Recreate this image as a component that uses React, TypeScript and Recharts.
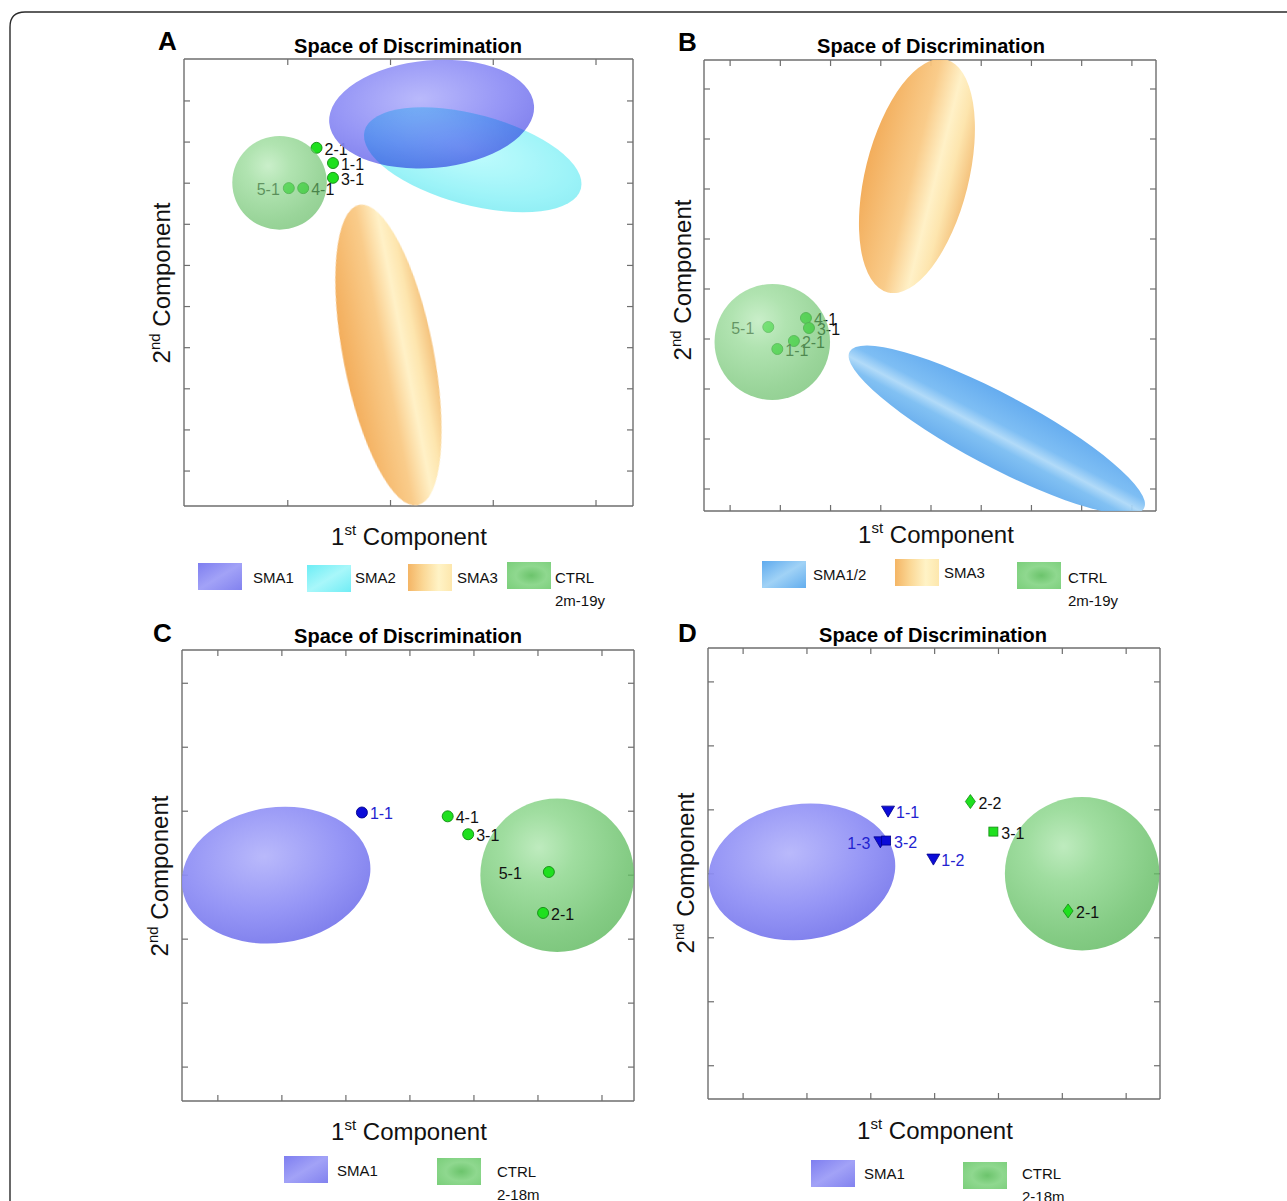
import React from "react";
import { ScatterChart, Scatter, XAxis, YAxis } from "recharts";

const FONT = '"Liberation Sans", Arial, Helvetica, sans-serif';

// ---------- panel A (SMA1 / SMA2 / SMA3 / CTRL 2m-19y) ----------
const xTicksA = [1, 2, 3, 4];
const yTicksA = [1, 2, 3, 4, 5, 6, 7, 8, 9, 10];
const xDomainA: [number, number] = [-0.01, 4.36];
const yDomainA: [number, number] = [0.15, 11.02];
const groupsA = [
  { name: "SMA1", x: 2.4, y: 9.68, rx: 1.0, ry: 1.31, rot: -5 },
  { name: "SMA2", x: 2.8, y: 8.57, rx: 1.09, ry: 1.1, rot: 15 },
  { name: "SMA3", x: 1.98, y: 3.82, rx: 0.44, ry: 3.72, rot: -11 },
  { name: "CTRL", x: 0.92, y: 8.01, rx: 0.46, ry: 1.14, rot: 0 },
];
const pointsA = [
  { label: "2-1", x: 1.28, y: 8.86, group: "CTRL" },
  { label: "1-1", x: 1.44, y: 8.49, group: "CTRL" },
  { label: "3-1", x: 1.44, y: 8.13, group: "CTRL" },
  { label: "4-1", x: 1.15, y: 7.88, group: "CTRL" },
  { label: "5-1", x: 1.01, y: 7.88, group: "CTRL" },
];

// ---------- panel B (SMA1/2 / SMA3 / CTRL 2m-19y) ----------
const xTicksB = [1, 2, 3, 4, 5, 6, 7, 8, 9];
const yTicksB = [1, 2, 3, 4, 5, 6, 7, 8, 9];
const xDomainB: [number, number] = [0.48, 9.48];
const yDomainB: [number, number] = [0.56, 9.58];
const groupsB = [
  { name: "SMA3", x: 4.72, y: 7.26, rx: 1.03, ry: 2.4, rot: 14 },
  { name: "SMA1/2", x: 6.31, y: 2.18, rx: 3.32, ry: 0.72, rot: 28 },
  { name: "CTRL", x: 1.84, y: 3.94, rx: 1.15, ry: 1.16, rot: 0 },
];
const pointsB = [
  { label: "5-1", x: 1.76, y: 4.24, group: "CTRL" },
  { label: "4-1", x: 2.51, y: 4.42, group: "CTRL" },
  { label: "3-1", x: 2.57, y: 4.22, group: "CTRL" },
  { label: "2-1", x: 2.27, y: 3.96, group: "CTRL" },
  { label: "1-1", x: 1.94, y: 3.8, group: "CTRL" },
];

// ---------- panel C (SMA1 / CTRL 2-18m) ----------
const xTicksC = [1, 2, 3, 4, 5, 6, 7];
const yTicksC = [1, 2, 3, 4, 5, 6, 7];
const xDomainC: [number, number] = [0.44, 7.5];
const yDomainC: [number, number] = [0.47, 7.52];
const groupsC = [
  { name: "SMA1", x: 1.91, y: 4.0, rx: 1.48, ry: 1.06, rot: -8 },
  { name: "CTRL", x: 6.3, y: 4.0, rx: 1.2, ry: 1.2, rot: 0 },
];
const pointsC = [
  { label: "1-1", x: 3.25, y: 4.98, group: "SMA1" },
  { label: "4-1", x: 4.59, y: 4.92, group: "CTRL" },
  { label: "3-1", x: 4.91, y: 4.64, group: "CTRL" },
  { label: "5-1", x: 6.17, y: 4.05, group: "CTRL" },
  { label: "2-1", x: 6.08, y: 3.41, group: "CTRL" },
];

// ---------- panel D (SMA1 / CTRL 2-18m) ----------
const xTicksD = [1, 2, 3, 4, 5, 6, 7];
const yTicksD = [1, 2, 3, 4, 5, 6, 7];
const xDomainD: [number, number] = [0.45, 7.53];
const yDomainD: [number, number] = [0.48, 7.53];
const groupsD = [
  { name: "SMA1", x: 1.92, y: 4.03, rx: 1.47, ry: 1.06, rot: -8 },
  { name: "CTRL", x: 6.31, y: 4.0, rx: 1.21, ry: 1.2, rot: 0 },
];
const pointsD = [
  { label: "1-1", x: 3.27, y: 4.98, group: "SMA1" },
  { label: "1-3", x: 3.15, y: 4.5, group: "SMA1" },
  { label: "3-2", x: 3.24, y: 4.52, group: "SMA1" },
  { label: "1-2", x: 3.98, y: 4.23, group: "SMA1" },
  { label: "2-2", x: 4.56, y: 5.13, group: "CTRL" },
  { label: "3-1", x: 4.92, y: 4.66, group: "CTRL" },
  { label: "2-1", x: 6.09, y: 3.42, group: "CTRL" },
];

const legendA = ["SMA1", "SMA2", "SMA3", "CTRL"];
const legendB = ["SMA1/2", "SMA3", "CTRL"];
const legendC = ["SMA1", "CTRL"];
const legendD = ["SMA1", "CTRL"];
const ageAB = "2m-19y";
const ageCD = "2-18m";

// marker by first digit of the label in panel D
const markerD: Record<string, string> = { "1": "triDown", "2": "diamond", "3": "square" };

const safe = (s: string) => s.replace(/[^a-zA-Z0-9]/g, "");

function ellipseGradient(kind: string, id: string) {
  switch (kind) {
    case "SMA1":
      return (
        <radialGradient id={id} cx="0.45" cy="0.35" r="0.75">
          <stop offset="0" stopColor="#b4b4fb" />
          <stop offset="0.55" stopColor="#8e8ef5" />
          <stop offset="1" stopColor="#6f6fe8" />
        </radialGradient>
      );
    case "SMA2":
      return (
        <radialGradient id={id} cx="0.45" cy="0.4" r="0.75">
          <stop offset="0" stopColor="#aafbfd" />
          <stop offset="0.6" stopColor="#7af0f6" />
          <stop offset="1" stopColor="#58e3ee" />
        </radialGradient>
      );
    case "SMA3":
      return (
        <linearGradient id={id} x1="0" y1="0" x2="1" y2="0">
          <stop offset="0" stopColor="#f2a953" />
          <stop offset="0.45" stopColor="#f9c984" />
          <stop offset="0.68" stopColor="#fff0c4" />
          <stop offset="0.82" stopColor="#fde4aa" />
          <stop offset="1" stopColor="#f4bf76" />
        </linearGradient>
      );
    case "SMA1/2":
      return (
        <linearGradient id={id} x1="0" y1="0" x2="0" y2="1">
          <stop offset="0" stopColor="#5aa6ee" />
          <stop offset="0.4" stopColor="#74b9f3" />
          <stop offset="0.56" stopColor="#acd8f8" />
          <stop offset="0.7" stopColor="#78bcf2" />
          <stop offset="1" stopColor="#5ea8ec" />
        </linearGradient>
      );
    default:
      return (
        <radialGradient id={id} cx="0.38" cy="0.32" r="0.78">
          <stop offset="0" stopColor="#aee6ae" />
          <stop offset="0.3" stopColor="#88d588" />
          <stop offset="0.75" stopColor="#66bf66" />
          <stop offset="1" stopColor="#58b558" />
        </radialGradient>
      );
  }
}

const OPACITY: Record<string, number> = { SMA1: 0.93, SMA2: 0.72, SMA3: 0.95, "SMA1/2": 0.93, CTRL: 0.8 };

const POINT_STYLE: Record<string, { fill: string; stroke: string; text: string }> = {
  CTRL: { fill: "#1fe01f", stroke: "#128a12", text: "#111111" },
  SMA1: { fill: "#0c0cd8", stroke: "#00008c", text: "#2323d0" },
};

type Box = { x: number; y: number; w: number; h: number };

type PanelProps = {
  uid: string;
  box: Box;
  xDomain: [number, number];
  yDomain: [number, number];
  xTicks: number[];
  yTicks: number[];
  groups: any[];
  points: any[];
  pointsUnder: boolean;
  leftLabels: string[];
  leftGap: number;
  markers?: Record<string, string>;
};

function Panel(props: PanelProps) {
  const { uid, box, xDomain, yDomain, xTicks, yTicks, groups, points, pointsUnder, leftLabels, leftGap, markers } = props;
  const pad = 6;
  const kx = box.w / (xDomain[1] - xDomain[0]);
  const ky = box.h / (yDomain[1] - yDomain[0]);

  const ellipseShape = (p: any) => {
    const { cx, cy, payload } = p;
    const id = `${uid}-${safe(payload.name)}`;
    // ellipses drawn over the points are a bit more see-through
    const op = pointsUnder && payload.name === "CTRL" ? 0.66 : OPACITY[payload.name];
    return (
      <g>
        <defs>{ellipseGradient(payload.name, id)}</defs>
        <ellipse
          cx={cx}
          cy={cy}
          rx={payload.rx * kx}
          ry={payload.ry * ky}
          transform={`rotate(${payload.rot} ${cx} ${cy})`}
          fill={`url(#${id})`}
          opacity={op}
          style={payload.name === "SMA2" ? { mixBlendMode: "multiply" } : undefined}
        />
      </g>
    );
  };

  const pointShape = (p: any) => {
    const { cx, cy, payload } = p;
    const st = POINT_STYLE[payload.group];
    const kind = markers ? markers[payload.label.charAt(0)] : "circle";
    let mark;
    if (kind === "triDown") {
      mark = <path d={`M${cx - 6.5},${cy - 5} L${cx + 6.5},${cy - 5} L${cx},${cy + 6} Z`} fill={st.fill} stroke={st.stroke} strokeWidth={0.8} />;
    } else if (kind === "square") {
      mark = <rect x={cx - 4.5} y={cy - 4.5} width={9} height={9} fill={st.fill} stroke={st.stroke} strokeWidth={0.8} />;
    } else if (kind === "diamond") {
      mark = <path d={`M${cx},${cy - 7} L${cx + 5},${cy} L${cx},${cy + 7} L${cx - 5},${cy} Z`} fill={st.fill} stroke={st.stroke} strokeWidth={0.8} />;
    } else {
      mark = <circle cx={cx} cy={cy} r={5.5} fill={st.fill} stroke={st.stroke} strokeWidth={0.9} />;
    }
    const left = leftLabels.includes(payload.label);
    return (
      <g>
        {mark}
        <text
          x={left ? cx - leftGap : cx + 8}
          y={cy + 7}
          textAnchor={left ? "end" : "start"}
          fontSize={16}
          fontFamily={FONT}
          fill={st.text}
        >
          {payload.label}
        </text>
      </g>
    );
  };

  const axisCommon = {
    type: "number" as const,
    mirror: true,
    tickFormatter: () => "",
    tickSize: 6,
    stroke: "#6e6e6e",
    allowDataOverflow: true,
    interval: 0 as const,
    axisLine: { strokeWidth: 1.4 },
    tickLine: { strokeWidth: 1.2 },
  };

  const ellipses = (
    <Scatter key="ell" data={groups} xAxisId="b" yAxisId="l" shape={ellipseShape} isAnimationActive={false} />
  );
  const marks = (
    <Scatter key="pts" data={points} xAxisId="b" yAxisId="l" shape={pointShape} isAnimationActive={false} />
  );

  return (
    <div style={{ position: "absolute", left: box.x - pad, top: box.y - pad }}>
      <ScatterChart
        width={box.w + 2 * pad}
        height={box.h + 2 * pad}
        margin={{ top: pad, right: pad, bottom: pad, left: pad }}
      >
        <XAxis {...axisCommon} xAxisId="b" orientation="bottom" dataKey="x" domain={xDomain} ticks={xTicks} />
        <XAxis {...axisCommon} xAxisId="t" orientation="top" dataKey="x" domain={xDomain} ticks={xTicks} />
        <YAxis {...axisCommon} yAxisId="l" orientation="left" dataKey="y" domain={yDomain} ticks={yTicks} />
        <YAxis {...axisCommon} yAxisId="r" orientation="right" dataKey="y" domain={yDomain} ticks={yTicks} />
        {pointsUnder ? [marks, ellipses] : [ellipses, marks]}
      </ScatterChart>
    </div>
  );
}

// legend swatch gradients
function SwatchDefs() {
  return (
    <defs>
      <linearGradient id="sw-SMA1" x1="0" y1="0" x2="1" y2="1">
        <stop offset="0" stopColor="#7e7ef0" />
        <stop offset="0.5" stopColor="#a2a2f7" />
        <stop offset="1" stopColor="#8282ef" />
      </linearGradient>
      <linearGradient id="sw-SMA2" x1="0" y1="0" x2="1" y2="1">
        <stop offset="0" stopColor="#6cedf5" />
        <stop offset="0.5" stopColor="#a8f7fa" />
        <stop offset="1" stopColor="#70edf5" />
      </linearGradient>
      <linearGradient id="sw-SMA3" x1="0" y1="0" x2="1" y2="0">
        <stop offset="0" stopColor="#f4b565" />
        <stop offset="0.35" stopColor="#fbd896" />
        <stop offset="0.7" stopColor="#fff3c6" />
        <stop offset="1" stopColor="#fde7ad" />
      </linearGradient>
      <linearGradient id="sw-SMA12" x1="0" y1="0" x2="1" y2="1">
        <stop offset="0" stopColor="#5eaaee" />
        <stop offset="0.5" stopColor="#a0d2f6" />
        <stop offset="1" stopColor="#62adee" />
      </linearGradient>
      <radialGradient id="sw-CTRL" cx="0.55" cy="0.5" r="0.7">
        <stop offset="0" stopColor="#6cc46c" />
        <stop offset="0.5" stopColor="#8fd88f" />
        <stop offset="1" stopColor="#7ccf7c" />
      </radialGradient>
    </defs>
  );
}

type LegendLayout = { sx: number; sy: number; tx: number; ty: number }[];

function Legend({ items, layout, age }: { items: string[]; layout: LegendLayout; age: string }) {
  return (
    <g fontFamily={FONT} fontSize={15} fill="#111">
      {items.map((name, i) => {
        const l = layout[i];
        return (
          <g key={name}>
            <rect x={l.sx} y={l.sy} width={44} height={27} fill={`url(#sw-${safe(name)})`} />
            <text x={l.tx} y={l.ty}>{name}</text>
            {name === "CTRL" && (
              <text x={l.tx} y={l.ty + 23}>{age}</text>
            )}
          </g>
        );
      })}
    </g>
  );
}

function XLabel({ x, y }: { x: number; y: number }) {
  return (
    <text x={x} y={y} textAnchor="middle" fontFamily={FONT} fontSize={24} fill="#111">
      1<tspan fontSize={15} dy={-10}>st</tspan>
      <tspan dy={10}> Component</tspan>
    </text>
  );
}

function YLabel({ x, y }: { x: number; y: number }) {
  return (
    <text transform={`translate(${x},${y}) rotate(-90)`} textAnchor="middle" fontFamily={FONT} fontSize={24} fill="#111">
      2<tspan fontSize={15} dy={-10}>nd</tspan>
      <tspan dy={10}> Component</tspan>
    </text>
  );
}

const TITLE = "Space of Discrimination";

export default function App() {
  return (
    <div style={{ position: "relative", width: 1287, height: 1201, overflow: "hidden", background: "#fff" }}>
      <style>{"body{margin:0}"}</style>
      <svg width={1287} height={1201} style={{ position: "absolute", left: 0, top: 0 }}>
        <SwatchDefs />
        <path d="M10,1210 L10,27 Q10,12 25,12 L1300,12" fill="none" stroke="#2a2a2a" strokeWidth={1.4} />
        <g fontFamily={FONT} fontWeight="bold" fill="#000">
          <text x={158} y={50} fontSize={26}>A</text>
          <text x={678} y={51} fontSize={26}>B</text>
          <text x={153} y={642} fontSize={26}>C</text>
          <text x={678} y={642} fontSize={26}>D</text>
          <text x={408} y={53} fontSize={20} textAnchor="middle">{TITLE}</text>
          <text x={931} y={53} fontSize={20} textAnchor="middle">{TITLE}</text>
          <text x={408} y={643} fontSize={20} textAnchor="middle">{TITLE}</text>
          <text x={933} y={642} fontSize={20} textAnchor="middle">{TITLE}</text>
        </g>
        <XLabel x={409} y={545} />
        <XLabel x={936} y={543} />
        <XLabel x={409} y={1140} />
        <XLabel x={935} y={1139} />
        <YLabel x={170} y={283} />
        <YLabel x={691} y={280} />
        <YLabel x={168} y={876} />
        <YLabel x={694} y={873} />
        <Legend
          items={legendA}
          age={ageAB}
          layout={[
            { sx: 198, sy: 563, tx: 253, ty: 583 },
            { sx: 307, sy: 565, tx: 355, ty: 583 },
            { sx: 408, sy: 564, tx: 457, ty: 583 },
            { sx: 507, sy: 562, tx: 555, ty: 583 },
          ]}
        />
        <Legend
          items={legendB}
          age={ageAB}
          layout={[
            { sx: 762, sy: 561, tx: 813, ty: 580 },
            { sx: 895, sy: 559, tx: 944, ty: 578 },
            { sx: 1017, sy: 562, tx: 1068, ty: 583 },
          ]}
        />
        <Legend
          items={legendC}
          age={ageCD}
          layout={[
            { sx: 284, sy: 1156, tx: 337, ty: 1176 },
            { sx: 437, sy: 1158, tx: 497, ty: 1177 },
          ]}
        />
        <Legend
          items={legendD}
          age={ageCD}
          layout={[
            { sx: 811, sy: 1160, tx: 864, ty: 1179 },
            { sx: 963, sy: 1162, tx: 1022, ty: 1179 },
          ]}
        />
      </svg>

      <Panel
        uid="pa"
        box={{ x: 184, y: 59, w: 449, h: 447 }}
        xDomain={xDomainA}
        yDomain={yDomainA}
        xTicks={xTicksA}
        yTicks={yTicksA}
        groups={groupsA}
        points={pointsA}
        pointsUnder={true}
        leftLabels={["5-1"]}
        leftGap={9}
      />
      <Panel
        uid="pb"
        box={{ x: 704, y: 60, w: 452, h: 451 }}
        xDomain={xDomainB}
        yDomain={yDomainB}
        xTicks={xTicksB}
        yTicks={yTicksB}
        groups={groupsB}
        points={pointsB}
        pointsUnder={true}
        leftLabels={["5-1"]}
        leftGap={14}
      />
      <Panel
        uid="pc"
        box={{ x: 182, y: 650, w: 452, h: 451 }}
        xDomain={xDomainC}
        yDomain={yDomainC}
        xTicks={xTicksC}
        yTicks={yTicksC}
        groups={groupsC}
        points={pointsC}
        pointsUnder={false}
        leftLabels={["5-1"]}
        leftGap={27}
      />
      <Panel
        uid="pd"
        box={{ x: 708, y: 648, w: 452, h: 451 }}
        xDomain={xDomainD}
        yDomain={yDomainD}
        xTicks={xTicksD}
        yTicks={yTicksD}
        groups={groupsD}
        points={pointsD}
        pointsUnder={false}
        leftLabels={["1-3"]}
        leftGap={10}
        markers={markerD}
      />
    </div>
  );
}
